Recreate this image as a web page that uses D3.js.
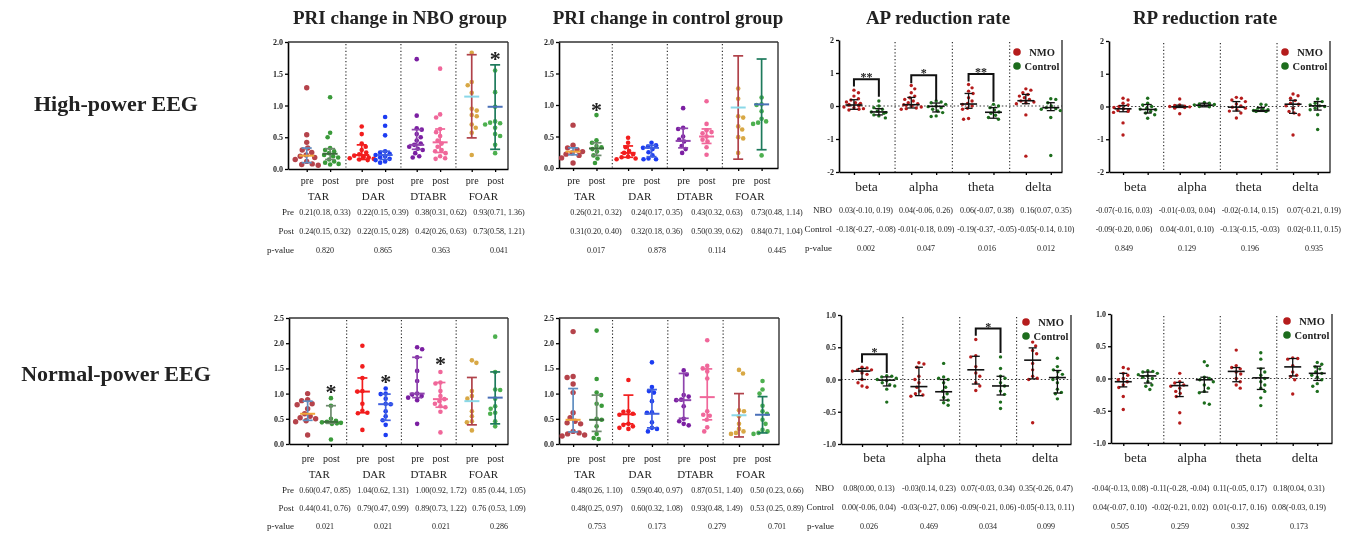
<!DOCTYPE html>
<html>
<head>
<meta charset="utf-8">
<script src="https://cdn.jsdelivr.net/npm/d3@7"></script>
<style>
body { margin: 0; background: #fff; }
#chart { will-change: transform; -webkit-font-smoothing: antialiased; }
svg text { font-family: "Liberation Serif", "Times New Roman", serif; fill: #222; }
</style>
</head>
<body>
<div id="chart"></div>
<script>
// ---- categories / labels
const priGroups = ["TAR", "DAR", "DTABR", "FOAR"];
const phases = ["pre", "post"];
const bands = ["beta", "alpha", "theta", "delta"];
const arms = ["NMO", "Control"];
const columnTitles = ["PRI change in NBO group", "PRI change in control group", "AP reduction rate", "RP reduction rate"];
const rowTitles = ["High-power EEG", "Normal-power EEG"];

// ---- high-power EEG, PRI (NBO)   order: TAR pre, TAR post, DAR pre, ...
const highNboPoints = [
  [1.28, 0.54, 0.42, 0.33, 0.30, 0.26, 0.22, 0.20, 0.18, 0.15, 0.12, 0.08, 0.07, 0.06],
  [1.13, 0.57, 0.50, 0.33, 0.30, 0.28, 0.25, 0.22, 0.20, 0.18, 0.15, 0.12, 0.10, 0.08, 0.07],
  [0.67, 0.55, 0.40, 0.35, 0.30, 0.26, 0.23, 0.21, 0.19, 0.18, 0.17, 0.16, 0.15, 0.14],
  [0.82, 0.68, 0.53, 0.28, 0.26, 0.24, 0.22, 0.20, 0.18, 0.16, 0.14, 0.12, 0.10],
  [1.73, 0.84, 0.64, 0.62, 0.55, 0.50, 0.45, 0.40, 0.38, 0.35, 0.32, 0.30, 0.25, 0.20, 0.18],
  [1.58, 0.86, 0.81, 0.63, 0.58, 0.52, 0.45, 0.40, 0.35, 0.30, 0.28, 0.25, 0.20, 0.17, 0.16],
  [1.83, 1.37, 1.32, 1.20, 0.95, 0.92, 0.85, 0.83, 0.70, 0.65, 0.57, 0.22],
  [1.55, 1.21, 0.98, 0.75, 0.73, 0.72, 0.70, 0.65, 0.55, 0.52, 0.38, 0.25]
];
const highNboBars = [[0.21, 0.10, 0.33], [0.24, 0.15, 0.32], [0.22, 0.15, 0.38], [0.22, 0.15, 0.28],
  [0.38, 0.31, 0.62], [0.42, 0.26, 0.63], [1.14, 0.49, 1.80], [0.98, 0.31, 1.64]];
const highNboStars = [{ slot: 7, at: 1.81 }];

// ---- high-power EEG, PRI (control)
const highCtrlPoints = [
  [0.68, 0.36, 0.32, 0.29, 0.26, 0.24, 0.22, 0.20, 0.16, 0.08],
  [0.84, 0.44, 0.40, 0.35, 0.33, 0.30, 0.26, 0.20, 0.15, 0.08],
  [0.48, 0.40, 0.33, 0.27, 0.24, 0.22, 0.18, 0.17, 0.15, 0.14],
  [0.40, 0.36, 0.34, 0.32, 0.30, 0.25, 0.20, 0.15, 0.14, 0.14],
  [0.95, 0.64, 0.62, 0.50, 0.45, 0.42, 0.35, 0.30, 0.24],
  [1.06, 0.70, 0.60, 0.57, 0.55, 0.50, 0.45, 0.42, 0.33, 0.21],
  [1.26, 1.10, 0.82, 0.80, 0.66, 0.61, 0.49, 0.47, 0.24],
  [1.12, 1.01, 1.00, 0.90, 0.78, 0.74, 0.72, 0.70, 0.20]
];
const highCtrlBars = [[0.26, 0.21, 0.32], [0.31, 0.20, 0.40], [0.24, 0.17, 0.35], [0.32, 0.18, 0.36],
  [0.43, 0.32, 0.63], [0.50, 0.39, 0.62], [0.96, 0.14, 1.78], [1.01, 0.29, 1.73]];
const highCtrlStars = [{ slot: 1, at: 1.00 }];

// ---- high-power EEG, AP reduction (NMO, Control per band)
const highApPoints = [
  [0.48, 0.40, 0.30, 0.22, 0.18, 0.12, 0.10, 0.08, 0.05, 0.03, 0.02, 0.00, -0.03, -0.05, -0.08, -0.10, -0.12],
  [0.15, 0.00, -0.05, -0.10, -0.15, -0.18, -0.20, -0.22, -0.27, -0.30, -0.36],
  [0.62, 0.52, 0.40, 0.30, 0.25, 0.20, 0.15, 0.10, 0.07, 0.04, 0.02, 0.00, -0.03, -0.06, -0.08, -0.10],
  [0.15, 0.12, 0.10, 0.05, 0.00, -0.02, -0.05, -0.10, -0.15, -0.20, -0.30, -0.32],
  [0.65, 0.55, 0.45, 0.38, 0.25, 0.15, 0.08, 0.05, 0.00, -0.07, -0.10, -0.38, -0.40],
  [0.05, 0.00, -0.05, -0.12, -0.18, -0.22, -0.28, -0.35, -0.40],
  [0.52, 0.48, 0.40, 0.35, 0.30, 0.25, 0.20, 0.15, 0.12, 0.10, 0.07, -0.27, -1.52],
  [0.22, 0.20, 0.10, 0.00, -0.05, -0.08, -0.10, -0.14, -0.35, -1.50]
];
const highApBars = [[0.03, -0.10, 0.19], [-0.18, -0.27, -0.08], [0.04, -0.06, 0.26], [-0.01, -0.18, 0.09],
  [0.06, -0.07, 0.38], [-0.19, -0.37, -0.05], [0.16, 0.07, 0.35], [-0.05, -0.14, 0.10]];
const highApBrackets = [
  { band: 0, top: 0.81, left: 0.59, right: 0.28, mark: "**" },
  { band: 1, top: 0.93, left: 0.69, right: 0.16, mark: "*" },
  { band: 2, top: 0.97, left: 0.74, right: 0.13, mark: "**" }
];

// ---- high-power EEG, RP reduction
const highRpPoints = [
  [0.25, 0.20, 0.10, 0.05, 0.00, -0.03, -0.07, -0.10, -0.12, -0.15, -0.18, -0.50, -0.87],
  [0.25, 0.10, 0.05, 0.00, -0.05, -0.08, -0.10, -0.15, -0.20, -0.25, -0.36],
  [0.23, 0.05, 0.03, 0.01, 0.00, -0.01, -0.02, -0.03, -0.05, -0.22],
  [0.12, 0.10, 0.08, 0.06, 0.05, 0.04, 0.03, 0.02, 0.00, -0.01],
  [0.28, 0.25, 0.20, 0.15, 0.08, 0.02, -0.02, -0.05, -0.10, -0.14, -0.20, -0.35],
  [0.07, 0.05, -0.05, -0.08, -0.10, -0.12, -0.13, -0.14, -0.15, -0.15],
  [0.38, 0.33, 0.25, 0.18, 0.10, 0.07, 0.02, -0.05, -0.15, -0.20, -0.25, -0.87],
  [0.23, 0.15, 0.10, 0.05, 0.02, 0.00, -0.05, -0.10, -0.25, -0.70]
];
const highRpBars = [[-0.07, -0.16, 0.03], [-0.09, -0.20, 0.06], [-0.01, -0.03, 0.04], [0.04, -0.01, 0.10],
  [-0.02, -0.14, 0.15], [-0.13, -0.15, -0.03], [0.07, -0.21, 0.19], [0.02, -0.11, 0.15]];

// ---- normal-power EEG, PRI (NBO)
const normNboPoints = [
  [1.00, 0.88, 0.86, 0.80, 0.78, 0.70, 0.60, 0.55, 0.52, 0.50, 0.46, 0.44, 0.18],
  [0.91, 0.76, 0.50, 0.46, 0.44, 0.43, 0.42, 0.41, 0.40, 0.09],
  [1.95, 1.54, 1.31, 1.05, 1.04, 0.80, 0.66, 0.62, 0.61, 0.28],
  [1.10, 1.00, 0.99, 0.90, 0.80, 0.79, 0.65, 0.55, 0.47, 0.38, 0.18],
  [1.92, 1.88, 1.72, 1.45, 1.25, 1.00, 0.98, 0.95, 0.92, 0.87, 0.40],
  [1.43, 1.22, 1.20, 1.05, 0.95, 0.89, 0.85, 0.80, 0.75, 0.73, 0.64, 0.23],
  [1.66, 1.61, 1.05, 0.95, 0.90, 0.65, 0.55, 0.45, 0.43, 0.27],
  [2.13, 1.43, 1.08, 1.07, 0.90, 0.75, 0.70, 0.62, 0.60, 0.45, 0.35]
];
const normNboBars = [[0.60, 0.47, 0.85], [0.44, 0.41, 0.76], [1.04, 0.62, 1.31], [0.79, 0.47, 0.99],
  [1.00, 0.92, 1.72], [0.89, 0.73, 1.22], [0.85, 0.38, 1.32], [0.92, 0.40, 1.43]];
const normNboStars = [{ slot: 1, at: 1.13 }, { slot: 3, at: 1.32 }, { slot: 5, at: 1.68 }];

// ---- normal-power EEG, PRI (control)
const normCtrlPoints = [
  [2.23, 1.34, 1.32, 1.19, 1.02, 0.62, 0.52, 0.45, 0.42, 0.40, 0.25, 0.22, 0.20, 0.18, 0.16],
  [2.25, 1.29, 1.02, 0.97, 0.80, 0.76, 0.50, 0.48, 0.35, 0.20, 0.12, 0.10],
  [1.27, 0.65, 0.64, 0.60, 0.58, 0.40, 0.38, 0.35, 0.32, 0.30],
  [1.62, 1.13, 1.05, 1.02, 0.85, 0.63, 0.62, 0.43, 0.32, 0.30, 0.25],
  [1.46, 1.38, 0.97, 0.94, 0.88, 0.87, 0.75, 0.50, 0.45, 0.40, 0.37],
  [2.06, 1.55, 1.50, 1.44, 1.30, 0.65, 0.58, 0.56, 0.48, 0.33, 0.25],
  [1.47, 1.40, 0.67, 0.65, 0.55, 0.40, 0.30, 0.25, 0.22, 0.20],
  [1.25, 1.08, 1.00, 0.76, 0.65, 0.60, 0.48, 0.40, 0.28, 0.25, 0.22, 0.20]
];
const normCtrlBars = [[0.48, 0.24, 1.10], [0.48, 0.25, 0.97], [0.59, 0.40, 0.97], [0.60, 0.32, 1.08],
  [0.87, 0.51, 1.40], [0.93, 0.48, 1.49], [0.57, 0.14, 1.00], [0.58, 0.22, 0.94]];

// ---- normal-power EEG, AP reduction
const normApPoints = [
  [0.19, 0.18, 0.15, 0.15, 0.13, 0.10, 0.08, 0.00, -0.05, -0.10, -0.12],
  [0.06, 0.05, 0.04, 0.02, 0.00, -0.02, -0.05, -0.08, -0.10, -0.15, -0.35],
  [0.26, 0.24, 0.19, 0.05, 0.00, -0.05, -0.12, -0.18, -0.22, -0.24, -0.26],
  [0.25, 0.04, 0.02, 0.00, -0.05, -0.12, -0.18, -0.22, -0.28, -0.32, -0.36, -0.40],
  [0.62, 0.37, 0.35, 0.20, 0.10, 0.05, -0.05, -0.10, -0.17],
  [0.35, 0.17, 0.05, 0.02, -0.05, -0.10, -0.18, -0.23, -0.35, -0.45],
  [0.58, 0.52, 0.45, 0.40, 0.25, 0.15, 0.05, 0.02, 0.00, -0.67],
  [0.33, 0.20, 0.15, 0.12, 0.08, 0.03, 0.00, -0.05, -0.15, -0.20, -0.22, -0.30]
];
const normApBars = [[0.13, 0.00, 0.17], [-0.01, -0.10, 0.04], [-0.11, -0.25, 0.19], [-0.19, -0.32, 0.00],
  [0.15, -0.07, 0.36], [-0.10, -0.24, 0.05], [0.30, 0.01, 0.49], [0.03, -0.21, 0.14]];
const normApBrackets = [
  { band: 0, top: 0.39, left: 0.26, right: 0.10, mark: "*" },
  { band: 2, top: 0.79, left: 0.68, right: 0.41, mark: "*" }
];

// ---- normal-power EEG, RP reduction
const normRpPoints = [
  [0.17, 0.15, 0.08, 0.05, 0.00, -0.02, -0.05, -0.10, -0.14, -0.28, -0.48],
  [0.12, 0.11, 0.10, 0.08, 0.06, 0.04, 0.02, 0.00, -0.05, -0.10, -0.12, -0.17],
  [0.08, -0.05, -0.07, -0.10, -0.12, -0.15, -0.20, -0.23, -0.28, -0.53, -0.69],
  [0.26, 0.20, 0.02, 0.00, -0.02, -0.05, -0.10, -0.15, -0.20, -0.22, -0.38, -0.40],
  [0.44, 0.20, 0.17, 0.15, 0.10, 0.07, 0.00, -0.05, -0.10, -0.15],
  [0.40, 0.30, 0.15, 0.10, 0.05, 0.00, -0.05, -0.10, -0.15, -0.20, -0.30, -0.42],
  [0.32, 0.31, 0.30, 0.20, 0.10, 0.05, 0.03, -0.02, -0.24],
  [0.25, 0.22, 0.18, 0.15, 0.10, 0.08, 0.05, 0.02, -0.02, -0.08, -0.12, -0.20]
];
const normRpBars = [[-0.05, -0.13, 0.08], [0.04, -0.07, 0.10], [-0.11, -0.28, -0.06], [-0.02, -0.21, 0.02],
  [0.11, -0.05, 0.17], [0.01, -0.17, 0.16], [0.18, 0.04, 0.31], [0.08, -0.03, 0.19]];

// ---- table texts
const highNboPre = ["0.21(0.18, 0.33)", "0.22(0.15, 0.39)", "0.38(0.31, 0.62)", "0.93(0.71, 1.36)"];
const highNboPost = ["0.24(0.15, 0.32)", "0.22(0.15, 0.28)", "0.42(0.26, 0.63)", "0.73(0.58, 1.21)"];
const highNboP = ["0.820", "0.865", "0.363", "0.041"];
const highCtrlPre = ["0.26(0.21, 0.32)", "0.24(0.17, 0.35)", "0.43(0.32, 0.63)", "0.73(0.48, 1.14)"];
const highCtrlPost = ["0.31(0.20, 0.40)", "0.32(0.18, 0.36)", "0.50(0.39, 0.62)", "0.84(0.71, 1.04)"];
const highCtrlP = ["0.017", "0.878", "0.114", "0.445"];
const highApNbo = ["0.03(-0.10, 0.19)", "0.04(-0.06, 0.26)", "0.06(-0.07, 0.38)", "0.16(0.07, 0.35)"];
const highApCtrl = ["-0.18(-0.27, -0.08)", "-0.01(-0.18, 0.09)", "-0.19(-0.37, -0.05)", "-0.05(-0.14, 0.10)"];
const highApP = ["0.002", "0.047", "0.016", "0.012"];
const highRpNbo = ["-0.07(-0.16, 0.03)", "-0.01(-0.03, 0.04)", "-0.02(-0.14, 0.15)", "0.07(-0.21, 0.19)"];
const highRpCtrl = ["-0.09(-0.20, 0.06)", "0.04(-0.01, 0.10)", "-0.13(-0.15, -0.03)", "0.02(-0.11, 0.15)"];
const highRpP = ["0.849", "0.129", "0.196", "0.935"];
const normNboPre = ["0.60(0.47, 0.85)", "1.04(0.62, 1.31)", "1.00(0.92, 1.72)", "0.85 (0.44, 1.05)"];
const normNboPost = ["0.44(0.41, 0.76)", "0.79(0.47, 0.99)", "0.89(0.73, 1.22)", "0.76 (0.53, 1.09)"];
const normNboP = ["0.021", "0.021", "0.021", "0.286"];
const normCtrlPre = ["0.48(0.26, 1.10)", "0.59(0.40, 0.97)", "0.87(0.51, 1.40)", "0.50 (0.23, 0.66)"];
const normCtrlPost = ["0.48(0.25, 0.97)", "0.60(0.32, 1.08)", "0.93(0.48, 1.49)", "0.53 (0.25, 0.89)"];
const normCtrlP = ["0.753", "0.173", "0.279", "0.701"];
const normApNbo = ["0.08(0.00, 0.13)", "-0.03(0.14, 0.23)", "0.07(-0.03, 0.34)", "0.35(-0.26, 0.47)"];
const normApCtrl = ["0.00(-0.06, 0.04)", "-0.03(-0.27, 0.06)", "-0.09(-0.21, 0.06)", "-0.05(-0.13, 0.11)"];
const normApP = ["0.026", "0.469", "0.034", "0.099"];
const normRpNbo = ["-0.04(-0.13, 0.08)", "-0.11(-0.28, -0.04)", "0.11(-0.05, 0.17)", "0.18(0.04, 0.31)"];
const normRpCtrl = ["0.04(-0.07, 0.10)", "-0.02(-0.21, 0.02)", "0.01(-0.17, 0.16)", "0.08(-0.03, 0.19)"];
const normRpP = ["0.505", "0.259", "0.392", "0.173"];

// ---- styling
const priDot = ["#b5434b", "#3a9a3a", "#f21d1d", "#1c3cf2", "#7b1fa2", "#f0679a", "#d8a845", "#4db04f"];
const priBar = ["#5f8dc0", "#6e8a6e", "#f21d1d", "#3f5fe0", "#8e44ad", "#f0679a", "#b0424a", "#1e7a5c"];
const priMed = ["#f0a63a", "#3d6b3d", "#f21d1d", "#3f5fe0", "#8e44ad", "#f0679a", "#8ad8e8", "#4a70b8"];
const armColor = ["#b51c1c", "#1d6d1d"];
const priSlots = [0, 1, 2.35, 3.35, 4.7, 5.7, 7.05, 8.05];
const bandSlots = [0, 1, 2.3, 3.3, 4.6, 5.6, 6.9, 7.9];
const sansFont = "'Liberation Sans', Arial, sans-serif";

const W = 1360, H = 536;
const svg = d3.select("#chart").append("svg").attr("width", W).attr("height", H);
svg.append("rect").attr("width", W).attr("height", H).attr("fill", "#fff");

// titles
const titleX = [400, 668, 938, 1205];
svg.selectAll(".ctitle").data(columnTitles).join("text")
  .attr("x", (d, i) => titleX[i]).attr("y", 17).attr("dy", "0.35em")
  .attr("text-anchor", "middle").attr("font-weight", "bold").attr("font-size", 19)
  .text(d => d);
const rowY = [103, 373];
svg.selectAll(".rtitle").data(rowTitles).join("text")
  .attr("x", 116).attr("y", (d, i) => rowY[i]).attr("dy", "0.35em")
  .attr("text-anchor", "middle").attr("font-weight", "bold").attr("font-size", 22)
  .text(d => d);

// simple dodge layout; spread is capped so groups stay in their column
function swarm(vals, y, r, gap, maxOff) {
  const d = 2 * r + gap;
  const out = [];
  vals.map(v => ({ v, py: y(v) })).sort((a, b) => a.py - b.py).forEach((p, i) => {
    let off = null;
    for (let m = 0; m <= maxOff && off === null; m += 0.5) {
      const cands = i % 2 ? [m, -m] : [-m, m];
      const ok = cands.find(c => out.every(q => (c - q.dx) ** 2 + (p.py - q.py) ** 2 >= d * d));
      if (ok !== undefined) off = ok;
    }
    if (off === null) off = (i % 2 ? 1 : -1) * maxOff * 0.5;
    out.push({ v: p.v, py: p.py, dx: off });
  });
  return out;
}

function drawPanel(p) {
  const [x0, x1, y0, y1] = p.box;
  const pri = p.kind === "pri";
  const slots = pri ? priSlots : bandSlots;
  const x = d3.scaleLinear().domain(p.xDomain).range([x0, x1]);
  const y = d3.scaleLinear().domain(p.yDomain).range([y1, y0]);
  const g = svg.append("g");

  // frame
  if (pri) g.append("line").attr("x1", x0).attr("x2", x1).attr("y1", y0).attr("y2", y0)
    .attr("stroke", "#333").attr("stroke-width", 1.4);
  g.append("line").attr("x1", x1).attr("x2", x1).attr("y1", y0).attr("y2", y1)
    .attr("stroke", "#333").attr("stroke-width", 1.4);

  // dotted separators between groups
  g.selectAll(".sep").data([1, 2, 3]).join("line")
    .attr("x1", k => x((slots[2 * k - 1] + slots[2 * k]) / 2))
    .attr("x2", k => x((slots[2 * k - 1] + slots[2 * k]) / 2))
    .attr("y1", y0 + 2).attr("y2", y1)
    .attr("stroke", "#222").attr("stroke-width", 1.1).attr("stroke-dasharray", "1.2,2.2");

  if (!pri) {
    g.append("line").attr("x1", x0).attr("x2", x1).attr("y1", y(0)).attr("y2", y(0))
      .attr("stroke", "#333").attr("stroke-width", 1.2).attr("stroke-dasharray", "1.5,2.2");
  }

  // axes
  const ya = g.append("g").attr("transform", `translate(${x0},0)`)
    .call(d3.axisLeft(y).tickValues(p.yTicks).tickFormat(p.fmt).tickSize(3).tickSizeOuter(0).tickPadding(2));
  ya.select(".domain").attr("stroke-width", 1.6);
  ya.selectAll(".tick line").attr("stroke-width", 1.3);
  ya.selectAll("text").attr("font-family", sansFont).attr("font-weight", "bold")
    .attr("font-size", 8).attr("fill", "#333");

  const xa = g.append("g").attr("transform", `translate(0,${y1})`)
    .call(d3.axisBottom(x).tickValues(slots).tickSize(3).tickSizeOuter(0)
      .tickFormat((d, i) => pri ? phases[i % 2] : ""));
  xa.select(".domain").attr("stroke-width", 1.6);
  xa.selectAll(".tick line").attr("stroke-width", 1.3);
  xa.selectAll("text").attr("y", p.subY - y1).attr("dy", "0.35em")
    .attr("font-family", "'Liberation Serif', serif").attr("font-size", 10).attr("fill", "#222");

  // group labels
  const names = pri ? priGroups : bands;
  g.selectAll(".grp").data(names).join("text")
    .attr("x", (d, i) => x((slots[2 * i] + slots[2 * i + 1]) / 2))
    .attr("y", p.groupY).attr("dy", "0.35em").attr("text-anchor", "middle")
    .attr("font-size", pri ? 11 : 13.5).text(d => d);

  // points and error bars
  p.points.forEach((vals, i) => {
    const cx = x(slots[i]);
    const r = pri ? (i === 0 ? 2.7 : 2.3) : 1.7;
    const fill = pri ? priDot[i] : armColor[i % 2];
    const pts = pri ? swarm(vals, y, r, 0.4, 12) : swarm(vals, y, r, 1.4, 10);
    g.append("g").selectAll("circle").data(pts).join("circle")
      .attr("cx", d => cx + d.dx).attr("cy", d => d.py).attr("r", r).attr("fill", fill);

    const [mid, lo, hi] = p.bars[i];
    const bc = pri ? priBar[i] : "#111";
    const mc = pri ? priMed[i] : "#111";
    const cap = pri ? 5 : 4, med = pri ? 7.5 : 8.5, sw = pri ? 1.7 : 1.3;
    const eb = g.append("g");
    eb.append("line").attr("x1", cx).attr("x2", cx).attr("y1", y(lo)).attr("y2", y(hi))
      .attr("stroke", bc).attr("stroke-width", sw);
    [lo, hi].forEach(v => eb.append("line").attr("x1", cx - cap).attr("x2", cx + cap)
      .attr("y1", y(v)).attr("y2", y(v)).attr("stroke", bc).attr("stroke-width", sw));
    eb.append("line").attr("x1", cx - med).attr("x2", cx + med).attr("y1", y(mid)).attr("y2", y(mid))
      .attr("stroke", mc).attr("stroke-width", sw + 0.3);
  });

  // big significance stars (PRI panels)
  (p.stars || []).forEach(s => {
    g.append("text").attr("x", x(priSlots[s.slot])).attr("y", y(s.at) + 12)
      .attr("text-anchor", "middle").attr("font-family", sansFont).attr("font-weight", "bold")
      .attr("font-size", 22).attr("fill", "#111").text("*");
  });

  // brackets (band panels)
  (p.brackets || []).forEach(b => {
    const xl = x(bandSlots[2 * b.band]), xr = x(bandSlots[2 * b.band + 1]);
    g.append("path")
      .attr("d", `M${xl},${y(b.left)}V${y(b.top)}H${xr}V${y(b.right)}`)
      .attr("fill", "none").attr("stroke", "#111").attr("stroke-width", 2);
    g.append("text").attr("x", (xl + xr) / 2).attr("y", y(b.top) + 2)
      .attr("text-anchor", "middle").attr("font-family", sansFont).attr("font-weight", "bold")
      .attr("font-size", 12).attr("fill", "#111").text(b.mark);
  });

  // legend (band panels)
  if (!pri) {
    const lx = x1 - 45;
    arms.forEach((a, i) => {
      const ly = y0 + p.legendDy + i * 14;
      g.append("circle").attr("cx", lx).attr("cy", ly).attr("r", 3.8).attr("fill", armColor[i]);
      g.append("text").attr("x", lx + 25).attr("y", ly).attr("dy", "0.35em")
        .attr("text-anchor", "middle").attr("font-weight", "bold").attr("font-size", 10.5).text(a);
    });
  }
}

function drawTable(t) {
  t.rows.forEach((row, r) => {
    if (t.headX) {
      svg.append("text").attr("x", t.headX).attr("y", t.ys[r]).attr("dy", "0.35em")
        .attr("text-anchor", "end").attr("font-size", 9).text(row[0]);
    }
    svg.append("g").selectAll("text").data(row[1]).join("text")
      .attr("x", (d, i) => t.xs[i]).attr("y", t.ys[r]).attr("dy", "0.35em")
      .attr("text-anchor", "middle").attr("font-size", 8).text(d => d);
  });
}

const priTicksHigh = [0, 0.5, 1, 1.5, 2];
const priTicksNorm = [0, 0.5, 1, 1.5, 2, 2.5];
const fmt1 = d => d.toFixed(1);
const fmt0 = d => String(d);

const panels = [
  { kind: "pri", box: [288, 508, 42, 169], xDomain: [-0.8, 8.6], yDomain: [0, 2], yTicks: priTicksHigh, fmt: fmt1,
    points: highNboPoints, bars: highNboBars, stars: highNboStars, subY: 180, groupY: 196 },
  { kind: "pri", box: [559, 778, 42, 168], xDomain: [-0.6, 8.75], yDomain: [0, 2], yTicks: priTicksHigh, fmt: fmt1,
    points: highCtrlPoints, bars: highCtrlBars, stars: highCtrlStars, subY: 180, groupY: 196 },
  { kind: "band", box: [839, 1062, 40, 172], xDomain: [-0.6, 8.35], yDomain: [-2, 2], yTicks: [-2, -1, 0, 1, 2], fmt: fmt0,
    points: highApPoints, bars: highApBars, brackets: highApBrackets, subY: 186, groupY: 186, legendDy: 12 },
  { kind: "band", box: [1109, 1330, 41, 172], xDomain: [-0.57, 8.4], yDomain: [-2, 2], yTicks: [-2, -1, 0, 1, 2], fmt: fmt0,
    points: highRpPoints, bars: highRpBars, subY: 186, groupY: 186, legendDy: 11 },
  { kind: "pri", box: [289, 508, 318, 444], xDomain: [-0.8, 8.6], yDomain: [0, 2.5], yTicks: priTicksNorm, fmt: fmt1,
    points: normNboPoints, bars: normNboBars, stars: normNboStars, subY: 458, groupY: 474 },
  { kind: "pri", box: [559, 779, 318, 444], xDomain: [-0.6, 8.75], yDomain: [0, 2.5], yTicks: priTicksNorm, fmt: fmt1,
    points: normCtrlPoints, bars: normCtrlBars, subY: 458, groupY: 474 },
  { kind: "band", box: [841, 1071, 315, 444], xDomain: [-0.85, 8.45], yDomain: [-1, 1], yTicks: [-1, -0.5, 0, 0.5, 1], fmt: fmt1,
    points: normApPoints, bars: normApBars, brackets: normApBrackets, subY: 457, groupY: 457, legendDy: 7 },
  { kind: "band", box: [1111, 1332, 314, 443], xDomain: [-0.5, 8.5], yDomain: [-1, 1], yTicks: [-1, -0.5, 0, 0.5, 1], fmt: fmt1,
    points: normRpPoints, bars: normRpBars, subY: 457, groupY: 457, legendDy: 7 }
];
panels.forEach(drawPanel);

const tables = [
  { headX: 294, xs: [325, 383, 441, 499], ys: [212, 231, 250],
    rows: [["Pre", highNboPre], ["Post", highNboPost], ["p-value", highNboP]] },
  { xs: [596, 657, 717, 777], ys: [212, 231, 250],
    rows: [["Pre", highCtrlPre], ["Post", highCtrlPost], ["p-value", highCtrlP]] },
  { headX: 832, xs: [866, 926, 987, 1046], ys: [210, 229, 248],
    rows: [["NBO", highApNbo], ["Control", highApCtrl], ["p-value", highApP]] },
  { xs: [1124, 1187, 1250, 1314], ys: [210, 229, 248],
    rows: [["NBO", highRpNbo], ["Control", highRpCtrl], ["p-value", highRpP]] },
  { headX: 294, xs: [325, 383, 441, 499], ys: [490, 508, 526],
    rows: [["Pre", normNboPre], ["Post", normNboPost], ["p-value", normNboP]] },
  { xs: [597, 657, 717, 777], ys: [490, 508, 526],
    rows: [["Pre", normCtrlPre], ["Post", normCtrlPost], ["p-value", normCtrlP]] },
  { headX: 834, xs: [869, 929, 988, 1046], ys: [488, 507, 526],
    rows: [["NBO", normApNbo], ["Control", normApCtrl], ["p-value", normApP]] },
  { xs: [1120, 1180, 1240, 1299], ys: [488, 507, 526],
    rows: [["NBO", normRpNbo], ["Control", normRpCtrl], ["p-value", normRpP]] }
];
tables.forEach(drawTable);
</script>
</body>
</html>
